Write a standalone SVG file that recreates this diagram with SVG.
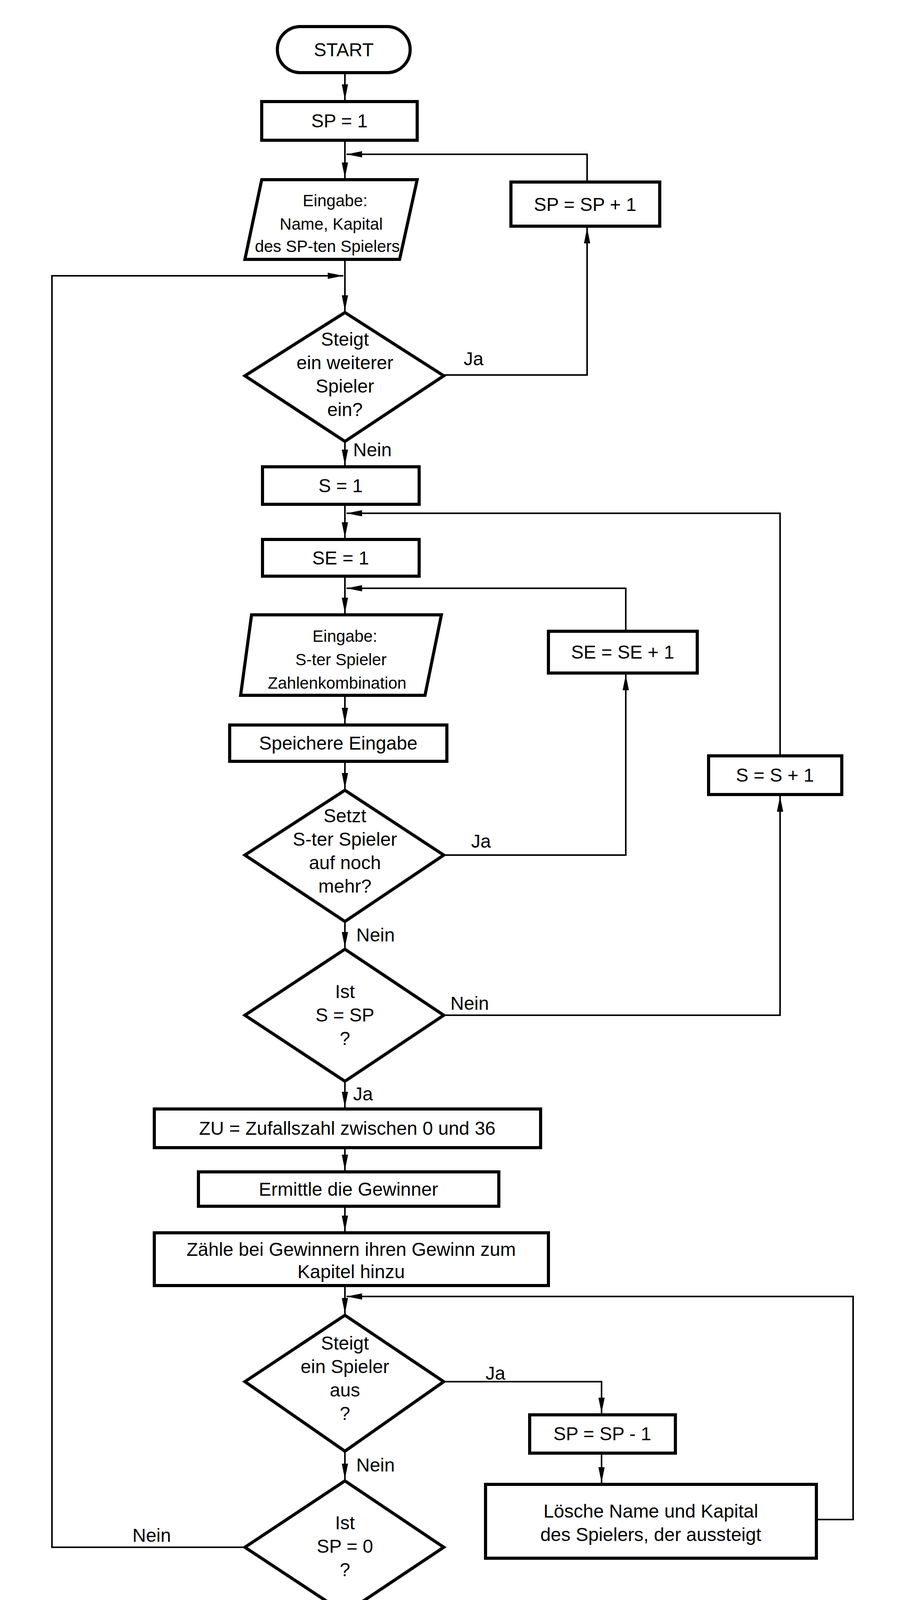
<svg xmlns="http://www.w3.org/2000/svg" width="2345" height="4520" viewBox="0 0 2345 4520">
<style>
.n{fill:#fff;stroke:#000;stroke-width:8;stroke-linejoin:miter}
.c{fill:none;stroke:#000;stroke-width:4}
text{font-family:"Liberation Sans",Arial,sans-serif;font-size:48px;fill:#000;text-anchor:middle}
.l{text-anchor:start}
.s{font-size:42px}
</style>
<defs>
<marker id="a" viewBox="0 0 40 16" refX="40" refY="8" markerWidth="40" markerHeight="16" markerUnits="userSpaceOnUse" orient="auto">
<path d="M0,0 L40,8 L0,16 Z" fill="#000"/>
</marker>
</defs>
<rect width="2345" height="4520" fill="#fff"/>
<g id="connectors">
<path class="c" d="M883,190 V256" marker-end="url(#a)"/>
<path class="c" d="M883,363 V456" marker-end="url(#a)"/>
<path class="c" d="M1503,466 V395 H887" marker-end="url(#a)"/>
<path class="c" d="M883,668 V796" marker-end="url(#a)"/>
<path class="c" d="M627,3961 H133 V706 H879" marker-end="url(#a)"/>
<path class="c" d="M1136,960 H1503 V583" marker-end="url(#a)"/>
<path class="c" d="M883,1134 V1191" marker-end="url(#a)"/>
<path class="c" d="M883,1295 V1377" marker-end="url(#a)"/>
<path class="c" d="M1997,1935 V1314 H887" marker-end="url(#a)"/>
<path class="c" d="M883,1479 V1570" marker-end="url(#a)"/>
<path class="c" d="M1602,1616 V1506 H887" marker-end="url(#a)"/>
<path class="c" d="M883,1784 V1852" marker-end="url(#a)"/>
<path class="c" d="M883,1953 V2019" marker-end="url(#a)"/>
<path class="c" d="M1136,2189 H1602 V1727" marker-end="url(#a)"/>
<path class="c" d="M883,2363 V2426" marker-end="url(#a)"/>
<path class="c" d="M1136,2599 H1997 V2038" marker-end="url(#a)"/>
<path class="c" d="M883,2772 V2835" marker-end="url(#a)"/>
<path class="c" d="M883,2942 V2996" marker-end="url(#a)"/>
<path class="c" d="M883,3092 V3152" marker-end="url(#a)"/>
<path class="c" d="M883,3295 V3363" marker-end="url(#a)"/>
<path class="c" d="M2090,3890 H2184 V3319 H887" marker-end="url(#a)"/>
<path class="c" d="M1136,3537 H1540 V3618" marker-end="url(#a)"/>
<path class="c" d="M1540,3724 V3796" marker-end="url(#a)"/>
<path class="c" d="M883,3719 V3787" marker-end="url(#a)"/>
<path class="c" d="M883,4134 V4225" marker-end="url(#a)"/>
<text class="l" x="1187" y="935">Ja</text>
<text class="l" x="904" y="1168">Nein</text>
<text class="l" x="1206" y="2170">Ja</text>
<text class="l" x="912" y="2410">Nein</text>
<text class="l" x="1153" y="2585">Nein</text>
<text class="l" x="904" y="2817">Ja</text>
<text class="l" x="1243" y="3532">Ja</text>
<text class="l" x="912" y="3767">Nein</text>
<text class="l" x="339" y="3947">Nein</text>
<text class="l" x="904" y="4182">Ja</text>
</g>
<g id="start"><rect class="n" x="710" y="68" width="340" height="118" rx="59"/><text x="880" y="144">START</text></g>
<g id="sp1"><rect class="n" x="670" y="260" width="398" height="99"/><text x="869" y="326">SP = 1</text></g>
<g id="in1"><path class="n" d="M670,460 H1068 L1023,664 H627 Z"/><text class="s" x="858" y="528">Eingabe:</text><text class="s" x="848" y="588">Name, Kapital</text><text class="s" x="838" y="645">des SP-ten Spielers</text></g>
<g id="spinc"><rect class="n" x="1308" y="466" width="381" height="113"/><text x="1498" y="540">SP = SP + 1</text></g>
<g id="d1"><path class="n" d="M883,800 L1136,962 L883,1130 L627,962 Z"/><text x="883" y="885">Steigt</text><text x="883" y="945">ein weiterer</text><text x="883" y="1005">Spieler</text><text x="883" y="1065">ein?</text></g>
<g id="s1"><rect class="n" x="672" y="1195" width="401" height="96"/><text x="872" y="1260">S = 1</text></g>
<g id="se1"><rect class="n" x="672" y="1381" width="401" height="94"/><text x="872" y="1445">SE = 1</text></g>
<g id="in2"><path class="n" d="M644,1574 H1130 L1088,1780 H616 Z"/><text class="s" x="883" y="1643">Eingabe:</text><text class="s" x="873" y="1703">S-ter Spieler</text><text class="s" x="863" y="1763">Zahlenkombination</text></g>
<g id="seinc"><rect class="n" x="1404" y="1616" width="381" height="107"/><text x="1594" y="1686">SE = SE + 1</text></g>
<g id="store"><rect class="n" x="588" y="1856" width="556" height="93"/><text x="866" y="1919">Speichere Eingabe</text></g>
<g id="d2"><path class="n" d="M883,2023 L1136,2189 L883,2359 L627,2189 Z"/><text x="883" y="2105">Setzt</text><text x="883" y="2165">S-ter Spieler</text><text x="883" y="2225">auf noch</text><text x="883" y="2285">mehr?</text></g>
<g id="sinc"><rect class="n" x="1814" y="1935" width="341" height="99"/><text x="1984" y="2001">S = S + 1</text></g>
<g id="d3"><path class="n" d="M883,2430 L1136,2599 L883,2768 L627,2599 Z"/><text x="883" y="2555">Ist</text><text x="883" y="2615">S = SP</text><text x="883" y="2675">?</text></g>
<g id="zu"><rect class="n" x="395" y="2839" width="989" height="99"/><text x="889" y="2905">ZU = Zufallszahl zwischen 0 und 36</text></g>
<g id="win"><rect class="n" x="508" y="3000" width="769" height="88"/><text x="892" y="3061">Ermittle die Gewinner</text></g>
<g id="add"><rect class="n" x="395" y="3156" width="1009" height="135"/><text x="899" y="3215">Zähle bei Gewinnern ihren Gewinn zum</text><text x="899" y="3272">Kapitel hinzu</text></g>
<g id="d4"><path class="n" d="M883,3367 L1136,3537 L883,3715 L627,3537 Z"/><text x="883" y="3455">Steigt</text><text x="883" y="3515">ein Spieler</text><text x="883" y="3575">aus</text><text x="883" y="3635">?</text></g>
<g id="spdec"><rect class="n" x="1356" y="3622" width="373" height="98"/><text x="1542" y="3687">SP = SP - 1</text></g>
<g id="del"><rect class="n" x="1243" y="3800" width="847" height="189"/><text x="1666" y="3885">Lösche Name und Kapital</text><text x="1666" y="3945">des Spielers, der aussteigt</text></g>
<g id="d5"><path class="n" d="M883,3791 L1136,3961 L883,4130 L627,3961 Z"/><text x="883" y="3915">Ist</text><text x="883" y="3975">SP = 0</text><text x="883" y="4035">?</text></g>
<g id="ende"><rect class="n" x="720" y="4229" width="331" height="116" rx="58"/><text x="885" y="4304">ENDE</text></g>
</svg>
